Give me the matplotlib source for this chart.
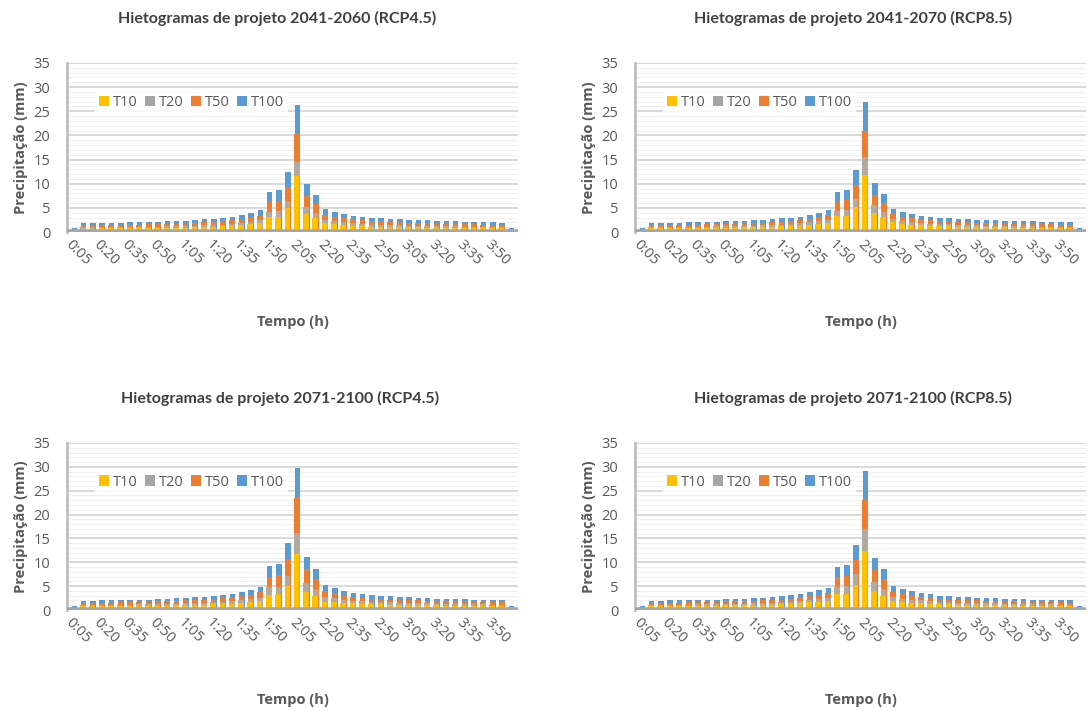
import matplotlib
matplotlib.use("Agg")
import matplotlib.pyplot as plt
from matplotlib.patches import Patch
import numpy as np

# 5-minute intervals over the 4 h design storm
tempos = ["0:05", "0:10", "0:15", "0:20", "0:25", "0:30", "0:35", "0:40",
          "0:45", "0:50", "0:55", "1:00", "1:05", "1:10", "1:15", "1:20",
          "1:25", "1:30", "1:35", "1:40", "1:45", "1:50", "1:55", "2:00",
          "2:05", "2:10", "2:15", "2:20", "2:25", "2:30", "2:35", "2:40",
          "2:45", "2:50", "2:55", "3:00", "3:05", "3:10", "3:15", "3:20",
          "3:25", "3:30", "3:35", "3:40", "3:45", "3:50", "3:55", "4:00"]

series_names = ["T10", "T20", "T50", "T100"]

# 2041-2060 RCP4.5
a_t10 = [0.3, 0.7, 0.7, 0.8, 0.8, 0.8, 0.8, 0.8, 0.8, 0.9, 0.9, 0.9, 0.9, 1.0, 1.0, 1.1,
         1.2, 1.3, 1.4, 1.6, 1.9, 3.1, 3.2, 4.9, 11.5, 3.8, 2.9, 1.9, 1.6, 1.5, 1.3, 1.2,
         1.1, 1.1, 1.1, 1.0, 1.0, 1.0, 0.9, 0.9, 0.9, 0.9, 0.8, 0.8, 0.8, 0.8, 0.8, 0.3]
a_t20 = [0.4, 1.0, 1.0, 1.0, 1.0, 1.0, 1.1, 1.1, 1.1, 1.1, 1.2, 1.2, 1.2, 1.3, 1.4, 1.4,
         1.5, 1.7, 1.9, 2.1, 2.4, 4.2, 4.3, 6.5, 14.5, 5.2, 3.9, 2.5, 2.2, 2.0, 1.8, 1.6,
         1.5, 1.5, 1.4, 1.4, 1.3, 1.3, 1.3, 1.2, 1.2, 1.2, 1.1, 1.1, 1.1, 1.1, 1.0, 0.4]
a_t50 = [0.6, 1.4, 1.4, 1.4, 1.4, 1.5, 1.5, 1.5, 1.6, 1.6, 1.7, 1.7, 1.8, 1.8, 2.0, 2.0,
         2.2, 2.4, 2.7, 3.0, 3.4, 6.2, 6.5, 9.4, 20.3, 7.5, 5.8, 3.6, 3.1, 2.8, 2.6, 2.4,
         2.2, 2.1, 2.0, 2.0, 1.9, 1.8, 1.8, 1.7, 1.7, 1.7, 1.6, 1.6, 1.5, 1.5, 1.4, 0.6]
a_t100 = [0.8, 1.8, 1.8, 1.9, 1.9, 1.9, 2.0, 2.0, 2.1, 2.1, 2.2, 2.3, 2.3, 2.4, 2.6, 2.7,
          2.9, 3.2, 3.5, 4.0, 4.5, 8.2, 8.6, 12.4, 26.4, 10.0, 7.7, 4.7, 4.1, 3.7, 3.4, 3.1,
          2.9, 2.8, 2.7, 2.6, 2.5, 2.4, 2.4, 2.3, 2.2, 2.2, 2.1, 2.1, 2.0, 2.0, 1.9, 0.8]

# 2041-2070 RCP8.5
b_t10 = [0.3, 0.8, 0.8, 0.8, 0.8, 0.8, 0.8, 0.9, 0.9, 0.9, 0.9, 1.0, 1.0, 1.0, 1.1, 1.2,
         1.2, 1.3, 1.5, 1.7, 1.9, 3.3, 3.4, 5.2, 11.8, 4.0, 3.1, 2.0, 1.7, 1.5, 1.4, 1.3,
         1.2, 1.2, 1.1, 1.1, 1.0, 1.0, 1.0, 1.0, 0.9, 0.9, 0.9, 0.9, 0.8, 0.8, 0.8, 0.3]
b_t20 = [0.4, 1.0, 1.0, 1.0, 1.0, 1.1, 1.1, 1.1, 1.2, 1.2, 1.2, 1.3, 1.3, 1.4, 1.4, 1.5,
         1.6, 1.8, 2.0, 2.2, 2.5, 4.4, 4.6, 6.9, 15.5, 5.5, 4.2, 2.6, 2.3, 2.1, 1.9, 1.7,
         1.6, 1.6, 1.5, 1.4, 1.4, 1.3, 1.3, 1.3, 1.2, 1.2, 1.2, 1.1, 1.1, 1.1, 1.1, 0.4]
b_t50 = [0.6, 1.4, 1.4, 1.4, 1.5, 1.5, 1.5, 1.6, 1.6, 1.7, 1.7, 1.8, 1.8, 1.9, 2.0, 2.1,
         2.3, 2.5, 2.7, 3.1, 3.5, 6.3, 6.6, 9.7, 20.9, 7.7, 6.0, 3.7, 3.2, 2.9, 2.6, 2.4,
         2.3, 2.2, 2.1, 2.0, 1.9, 1.9, 1.8, 1.8, 1.7, 1.7, 1.7, 1.6, 1.6, 1.5, 1.5, 0.6]
b_t100 = [0.8, 1.8, 1.8, 1.9, 1.9, 2.0, 2.0, 2.1, 2.1, 2.2, 2.2, 2.3, 2.4, 2.5, 2.6, 2.8,
          3.0, 3.2, 3.6, 4.0, 4.6, 8.3, 8.7, 12.8, 27.0, 10.2, 7.9, 4.8, 4.2, 3.8, 3.4, 3.2,
          3.0, 2.9, 2.7, 2.6, 2.5, 2.5, 2.4, 2.3, 2.3, 2.2, 2.2, 2.1, 2.1, 2.0, 2.0, 0.8]

# 2071-2100 RCP4.5
c_t10 = [0.3, 0.8, 0.8, 0.8, 0.8, 0.8, 0.8, 0.9, 0.9, 0.9, 0.9, 1.0, 1.0, 1.0, 1.1, 1.2,
         1.2, 1.3, 1.5, 1.6, 1.9, 3.1, 3.4, 5.0, 11.7, 3.8, 2.9, 1.7, 1.6, 1.5, 1.4, 1.3,
         1.2, 1.2, 1.1, 1.1, 1.0, 1.0, 1.0, 1.0, 0.9, 0.9, 0.9, 0.9, 0.9, 0.8, 0.8, 0.3]
c_t20 = [0.5, 1.0, 1.0, 1.1, 1.1, 1.1, 1.1, 1.2, 1.2, 1.2, 1.3, 1.3, 1.4, 1.4, 1.5, 1.6,
         1.7, 1.8, 2.0, 2.3, 2.6, 4.8, 4.8, 7.1, 16.1, 5.7, 4.4, 2.8, 2.5, 2.2, 1.9, 1.8,
         1.7, 1.6, 1.6, 1.5, 1.5, 1.4, 1.4, 1.3, 1.3, 1.3, 1.2, 1.2, 1.2, 1.1, 1.1, 0.5]
c_t50 = [0.7, 1.5, 1.5, 1.5, 1.5, 1.6, 1.6, 1.7, 1.7, 1.8, 1.8, 1.9, 2.0, 2.1, 2.2, 2.3,
         2.5, 2.6, 2.9, 3.2, 3.7, 6.9, 7.3, 10.7, 23.5, 8.6, 6.5, 4.0, 3.5, 3.1, 2.8, 2.6,
         2.4, 2.3, 2.2, 2.1, 2.1, 2.0, 1.9, 1.9, 1.8, 1.8, 1.8, 1.7, 1.7, 1.6, 1.6, 0.7]
c_t100 = [0.9, 1.9, 1.9, 2.0, 2.0, 2.1, 2.1, 2.2, 2.2, 2.3, 2.4, 2.5, 2.6, 2.7, 2.8, 3.0,
          3.2, 3.4, 3.8, 4.2, 4.8, 9.2, 9.6, 14.0, 29.8, 11.1, 8.6, 5.2, 4.6, 4.0, 3.6, 3.4,
          3.1, 3.0, 2.9, 2.8, 2.7, 2.6, 2.5, 2.4, 2.4, 2.3, 2.3, 2.2, 2.2, 2.1, 2.1, 0.9]

# 2071-2100 RCP8.5
d_t10 = [0.4, 0.8, 0.8, 0.8, 0.8, 0.9, 0.9, 0.9, 0.9, 1.0, 1.0, 1.0, 1.0, 1.1, 1.1, 1.2,
         1.3, 1.4, 1.6, 1.7, 1.9, 3.3, 3.4, 5.2, 12.4, 4.0, 2.9, 1.9, 1.7, 1.5, 1.4, 1.3,
         1.2, 1.2, 1.1, 1.1, 1.1, 1.0, 1.0, 1.0, 1.0, 0.9, 0.9, 0.9, 0.9, 0.9, 0.8, 0.4]
d_t20 = [0.5, 1.0, 1.0, 1.1, 1.1, 1.1, 1.2, 1.2, 1.2, 1.3, 1.3, 1.3, 1.4, 1.4, 1.5, 1.6,
         1.7, 1.9, 2.1, 2.3, 2.5, 4.8, 5.0, 7.5, 17.0, 5.9, 4.4, 2.7, 2.4, 2.2, 2.0, 1.8,
         1.7, 1.6, 1.5, 1.5, 1.4, 1.4, 1.4, 1.3, 1.3, 1.3, 1.2, 1.2, 1.2, 1.1, 1.1, 0.5]
d_t50 = [0.7, 1.5, 1.5, 1.5, 1.5, 1.6, 1.6, 1.7, 1.7, 1.8, 1.8, 1.8, 1.9, 2.0, 2.1, 2.2,
         2.4, 2.6, 2.9, 3.2, 3.5, 6.9, 7.1, 10.5, 23.1, 8.4, 6.5, 3.8, 3.4, 3.1, 2.8, 2.5,
         2.3, 2.2, 2.1, 2.1, 2.0, 1.9, 1.9, 1.8, 1.8, 1.8, 1.7, 1.7, 1.6, 1.6, 1.5, 0.7]
d_t100 = [0.9, 1.9, 1.9, 2.0, 2.0, 2.1, 2.1, 2.2, 2.2, 2.3, 2.3, 2.4, 2.5, 2.6, 2.8, 2.9,
          3.1, 3.4, 3.8, 4.2, 4.6, 9.0, 9.4, 13.6, 29.1, 10.9, 8.6, 5.0, 4.4, 4.0, 3.6, 3.3,
          3.0, 2.9, 2.8, 2.7, 2.6, 2.5, 2.5, 2.4, 2.3, 2.3, 2.2, 2.2, 2.1, 2.1, 2.0, 0.9]

titles = ["Hietogramas de projeto 2041-2060 (RCP4.5)",
          "Hietogramas de projeto 2041-2070 (RCP8.5)",
          "Hietogramas de projeto 2071-2100 (RCP4.5)",
          "Hietogramas de projeto 2071-2100 (RCP8.5)"]

panels = [(a_t10, a_t20, a_t50, a_t100),
          (b_t10, b_t20, b_t50, b_t100),
          (c_t10, c_t20, c_t50, c_t100),
          (d_t10, d_t20, d_t50, d_t100)]

colors = ["#FFC000", "#B3A99F", "#ED7D31", "#5B9BD5"]
legend_colors = ["#FFC000", "#A5A5A5", "#ED7D31", "#5B9BD5"]
txt = "#595959"

plt.rcParams["font.family"] = ["Open Sans", "DejaVu Sans"]

W, H = 1092, 711
fig = plt.figure(figsize=(W / 100, H / 100), dpi=100)

# pixel boxes of the plot areas: left, right, top(35), bottom(0)
boxes = [(67, 518, 63, 232), (635, 1086, 63, 232),
         (67, 518, 443, 610), (635, 1086, 443, 610)]
title_pos = [(277, 18), (853, 18), (280, 398), (853, 398)]

x = np.arange(len(tempos))
for k, (vals, (l, r, t, b)) in enumerate(zip(panels, boxes)):
    ax = fig.add_axes([l / W, 1 - b / H, (r - l) / W, (b - t) / H])
    ax.set_ylim(0, 35)
    ax.set_xlim(-0.7, len(tempos) - 0.2)
    ax.set_yticks(range(0, 36, 5))
    ax.set_yticks(range(0, 36, 1), minor=True)
    ax.grid(axis="y", which="major", color="#D9D9D9", lw=1.4, zorder=0)
    ax.grid(axis="y", which="minor", color="#F0F0F0", lw=0.8, zorder=0)
    ax.tick_params(axis="y", which="both", length=0, labelsize=10.5, labelcolor=txt, pad=12)
    ax.tick_params(axis="x", length=0, labelsize=10.5, labelcolor=txt, pad=4)
    for s in ["top", "right", "bottom"]:
        ax.spines[s].set_visible(False)
    ax.spines["left"].set_color("#BFBFBF")
    ax.spines["left"].set_linewidth(2)
    ax.axhline(0, color="#A6A6A6", lw=4, zorder=6)

    # back series first so the smaller return periods sit in front
    for j in range(3, -1, -1):
        ax.bar(x + 0.03 * j, vals[j], width=0.6, color=colors[j],
               edgecolor="none", zorder=2 + (3 - j))

    ax.set_xticks(x[::3])
    ax.set_xticklabels(tempos[::3], rotation=-45, ha="left", va="top",
                       rotation_mode="anchor")
    ax.set_ylabel("Precipitação (mm)", fontsize=10.5, fontweight="bold",
                  color=txt, labelpad=4)
    ax.set_xlabel("Tempo (h)", fontsize=10.5, fontweight="bold", color=txt,
                  labelpad=33)

    handles = [Patch(facecolor=c, edgecolor="none") for c in legend_colors]
    leg = ax.legend(handles, series_names, loc="upper left",
                    bbox_to_anchor=(0.045, 0.88), ncol=4, frameon=True,
                    fontsize=10.5, handlelength=0.7, handleheight=0.7,
                    handletextpad=0.25, columnspacing=0.5, borderpad=0.3,
                    labelcolor=txt)
    leg.get_frame().set_facecolor("white")
    leg.get_frame().set_edgecolor("none")
    leg.get_frame().set_alpha(0.85)
    leg.set_zorder(10)

    tx, ty = title_pos[k]
    fig.text(tx / W, 1 - ty / H, titles[k], ha="center", va="center",
             fontsize=11.5, fontweight="bold", color="#404040",
             family=["Lato", "DejaVu Sans"])

fig.savefig("out.png", dpi=100, facecolor="white")
